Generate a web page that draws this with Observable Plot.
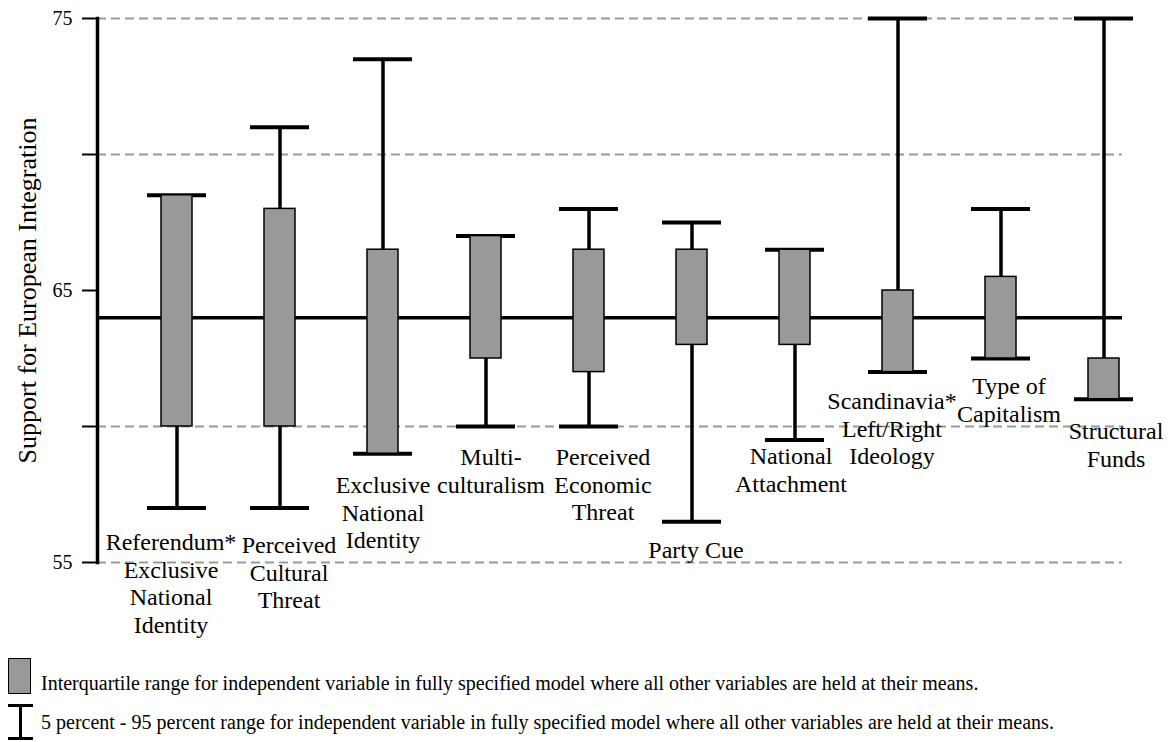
<!DOCTYPE html>
<html>
<head>
<meta charset="utf-8">
<script src="https://cdn.jsdelivr.net/npm/d3@7"></script>
<script src="https://cdn.jsdelivr.net/npm/@observablehq/plot@0.6"></script>
</head>
<body style="margin:0;background:#fff">
<div id="wrap" style="position:relative;width:1170px;height:742px;font-family:'Liberation Serif', 'Times New Roman', serif"></div>
<script>
// ---- data ----
const categories = [
  "Referendum* Exclusive National Identity",
  "Perceived Cultural Threat",
  "Exclusive National Identity",
  "Multiculturalism",
  "Perceived Economic Threat",
  "Party Cue",
  "National Attachment",
  "Scandinavia* Left/Right Ideology",
  "Type of Capitalism",
  "Structural Funds"
];
const labelText = [
  "Referendum*\nExclusive\nNational\nIdentity",
  "Perceived\nCultural\nThreat",
  "Exclusive\nNational\nIdentity",
  "Multi-\nculturalism",
  "Perceived\nEconomic\nThreat",
  "Party Cue",
  "National\nAttachment",
  "Scandinavia*\nLeft/Right\nIdeology",
  "Type of\nCapitalism",
  "Structural\nFunds"
];
const q25 = [60, 60, 59, 62.5, 62, 63, 63, 62, 62.5, 61];
const q75 = [68.5, 68, 66.5, 67, 66.5, 66.5, 66.5, 65, 65.5, 62.5];
const p05 = [57, 57, 59, 60, 60, 56.5, 59.5, 62, 62.5, 61];
const p95 = [68.5, 71, 73.5, 67, 68, 67.5, 66.5, 75, 68, 75];
const labelAt = [56.18, 56.07, 58.27, 59.30, 59.30, 55.88, 59.34, 61.36, 61.91, 60.26];
const overallMean = [64];
const yTicks = [55, 60, 65, 70, 75];
const yTickLabels = ["55", "", "65", "", "75"];
const gridValues = [55, 60, 70, 75];
const yTitle = "Support for European Integration";
const legendBox = "Interquartile range for independent variable in fully specified model where all other variables are held at their means.";
const legendWhisker = "5 percent - 95 percent range for independent variable in fully specified model where all other variables are held at their means.";

// ---- build table ----
const rows = categories.map((c, i) => ({cat: c, q25: q25[i], q75: q75[i], p05: p05[i], p95: p95[i], label: labelText[i], at: labelAt[i]}));
const labelDx = [-6, 9, 0, 5, 14, 4, -4, -6, 8, 12];
const SERIF = "'Liberation Serif', 'Times New Roman', serif";

const chart = Plot.plot({
  width: 1170,
  height: 645,
  marginTop: 18,
  marginBottom: 83,
  marginLeft: 97,
  marginRight: 48,
  style: {fontFamily: SERIF, background: "#fff", color: "#000"},
  x: {type: "band", domain: categories, range: [142.5, 1136.5], paddingInner: 0.432, paddingOuter: 0, axis: null},
  y: {domain: [55, 75], axis: null},
  marks: [
    Plot.ruleY(gridValues, {stroke: "#9a9a9a", strokeWidth: 2, strokeDasharray: "9,5"}),
    Plot.ruleY(overallMean, {stroke: "#000", strokeWidth: 3.5}),
    Plot.ruleX(rows, {x: "cat", y1: "p05", y2: "p95", stroke: "#000", strokeWidth: 3.5}),
    Plot.tickY(rows, {x: "cat", y: "p05", stroke: "#000", strokeWidth: 4}),
    Plot.tickY(rows, {x: "cat", y: "p95", stroke: "#000", strokeWidth: 4}),
    Plot.barY(rows, {x: "cat", y1: "q25", y2: "q75", fill: "#999999", stroke: "#000", strokeWidth: 1.5, insetLeft: 14, insetRight: 14}),
    ...rows.map((r, i) => Plot.text([r], {x: "cat", y: "at", text: "label", dx: labelDx[i], lineAnchor: "top", textAnchor: "middle", lineHeight: 1.15, fontSize: 24, fill: "#000"})),
    Plot.axisY(yTicks, {anchor: "left", tickSize: 15, tickPadding: 10, strokeWidth: 2, fontSize: 20, tickFormat: d => yTickLabels[yTicks.indexOf(d)]}),
    Plot.frame({anchor: "left", strokeWidth: 3.5, stroke: "#000"}),
    Plot.text([yTitle], {frameAnchor: "left", text: d => d, rotate: -90, dx: -70, fontSize: 26, textAnchor: "middle", lineAnchor: "middle", fill: "#000"})
  ]
});

const wrap = document.getElementById("wrap");
wrap.appendChild(chart);

// ---- legend (HTML, below the SVG) ----
function div(style, text) {
  const d = document.createElement("div");
  d.setAttribute("style", style);
  if (text) d.textContent = text;
  wrap.appendChild(d);
  return d;
}
const textStyle = "position:absolute;left:41px;font-size:20px;line-height:20px;white-space:nowrap;color:#000;font-family:" + SERIF + ";";
div("position:absolute;left:8px;top:658px;width:21px;height:34px;background:#999;border:1.5px solid #000;");
div("position:absolute;left:8px;top:704px;width:25px;height:3px;background:#000;");
div("position:absolute;left:19px;top:704px;width:2.5px;height:35px;background:#000;");
div("position:absolute;left:8px;top:737px;width:25px;height:3px;background:#000;");
div(textStyle + "top:673px;", legendBox);
div(textStyle + "top:712px;", legendWhisker);
</script>
</body>
</html>
